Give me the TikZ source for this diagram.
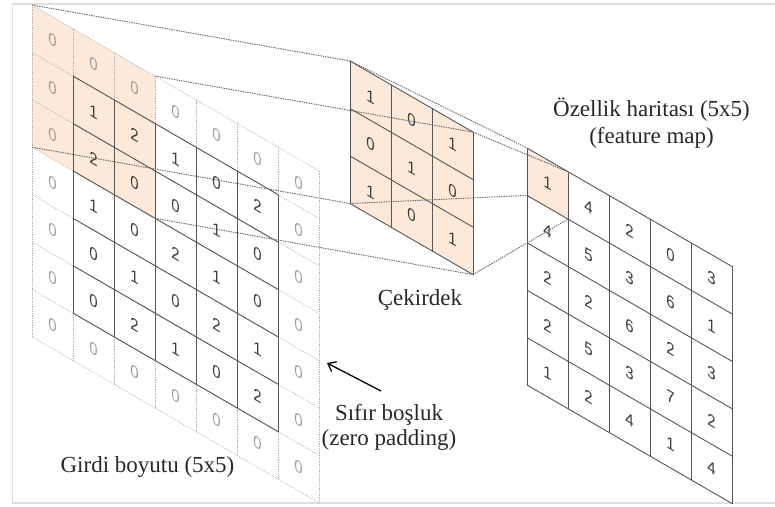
\documentclass[tikz,border=0pt]{standalone}
\usepackage{fontspec}
\setmainfont{Liberation Serif}
\newfontfamily\digitfont[FakeStretch=0.88]{Liberation Sans}
\usetikzlibrary{arrows.meta}

\definecolor{peach}{RGB}{252,233,217}
\definecolor{padgray}{RGB}{175,175,175}
\definecolor{padtext}{RGB}{160,160,160}
\definecolor{gridgray}{RGB}{85,85,85}
\definecolor{numtext}{RGB}{60,60,60}
\definecolor{projgray}{RGB}{105,105,105}
\definecolor{framegray}{RGB}{222,222,222}
\definecolor{captext}{RGB}{40,40,40}

\begin{document}
\begin{tikzpicture}[x=1pt,y=-1pt,
  padline/.style={draw=padgray, line width=0.75pt, dash pattern=on 0.7pt off 1.1pt},
  cellline/.style={draw=gridgray, line width=0.9pt},
  projline/.style={draw=projgray, line width=0.95pt, dash pattern=on 1.4pt off 1pt},
  padnum/.style={font=\digitfont\fontsize{17}{17}\selectfont, text=padtext, transform shape, inner sep=0pt},
  cellnum/.style={padnum, text=numtext},
  caption/.style={font=\fontsize{23}{27}\selectfont, text=captext, anchor=base, inner sep=0pt},
  pointer/.style={draw=black, line width=1.3pt, -{Straight Barb[length=7pt,width=11pt]}}
]
\useasboundingbox (0,0) rectangle (775,506);

% outer frame (its right side lies past the page edge)
\draw[framegray, line width=1.5pt] (777,4) -- (12.7,4) -- (12.7,503) -- (777,503);

% ---------- padded input (7x7), inner 5x5 solid ----------
\begin{scope}[cm={1,-0.578,0,1,(32pt,-5pt)}, x=41pt, y=-47.4pt]
  \fill[peach] (0,0) -- (3,0) -- (3,3) -- (0,3) -- cycle;
  \foreach \i in {0,...,7} {
    \draw[padline] (\i,0) -- (\i,7);
    \draw[padline] (0,\i) -- (7,\i);
  }
  \foreach \i in {1,...,6} {
    \draw[cellline] (\i,1) -- (\i,6);
    \draw[cellline] (1,\i) -- (6,\i);
  }
  \foreach \c in {0,...,6} {
    \node[padnum] (pad-0-\c) at (\c+0.5,0.5) {0};
    \node[padnum] (pad-6-\c) at (\c+0.5,6.5) {0};
  }
  \foreach \r in {1,...,5} {
    \node[padnum] (pad-\r-0) at (0.5,\r+0.5) {0};
    \node[padnum] (pad-\r-6) at (6.5,\r+0.5) {0};
  }
  \foreach \row [count=\r] in {{1,2,1,0,2},{2,0,0,1,0},{1,0,2,1,0},{0,1,0,2,1},{0,2,1,0,2}} {
    \foreach \v [count=\c] in \row {
      \node[cellnum] (in-\r-\c) at (\c+0.5,\r+0.5) {\v};
    }
  }
  \coordinate (win-tl) at (0,0);
  \coordinate (win-tr) at (3,0);
  \coordinate (win-bl) at (0,3);
  \coordinate (win-br) at (3,3);
\end{scope}

% ---------- kernel (3x3) ----------
\begin{scope}[cm={1,-0.578,0,1,(350pt,-61pt)}, x=41pt, y=-47.5pt]
  \fill[peach] (0,0) -- (3,0) -- (3,3) -- (0,3) -- cycle;
  \foreach \i in {0,...,3} {
    \draw[cellline] (\i,0) -- (\i,3);
    \draw[cellline] (0,\i) -- (3,\i);
  }
  \foreach \row [count=\r] in {{1,0,1},{0,1,0},{1,0,1}} {
    \foreach \v [count=\c] in \row {
      \node[cellnum] (k-\r-\c) at (\c-0.5,\r-0.5) {\v};
    }
  }
  \coordinate (k-tl) at (0,0);
  \coordinate (k-tr) at (3,0);
  \coordinate (k-bl) at (0,3);
  \coordinate (k-br) at (3,3);
\end{scope}

% ---------- feature map (5x5) ----------
\begin{scope}[cm={1,-0.578,0,1,(527pt,-148pt)}, x=41pt, y=-47.4pt]
  \fill[peach] (0,0) -- (1,0) -- (1,1) -- (0,1) -- cycle;
  \foreach \i in {0,...,5} {
    \draw[cellline] (\i,0) -- (\i,5);
    \draw[cellline] (0,\i) -- (5,\i);
  }
  \foreach \row [count=\r] in {{1,4,2,0,3},{4,5,3,6,1},{2,2,6,2,3},{2,5,3,7,2},{1,2,4,1,4}} {
    \foreach \v [count=\c] in \row {
      \node[cellnum] (f-\r-\c) at (\c-0.5,\r-0.5) {\v};
    }
  }
  \coordinate (f-tl) at (0,0);
  \coordinate (f-tr) at (1,0);
  \coordinate (f-bl) at (0,1);
  \coordinate (f-br) at (1,1);
\end{scope}

% ---------- projection lines ----------
\draw[projline] (win-tl) -- (k-tl);
\draw[projline] (win-tr) -- (k-tr);
\draw[projline] (win-bl) -- (k-bl);
\draw[projline] (win-br) -- (k-br);
\draw[projline] (k-tl) -- (f-tl);
\draw[projline] (k-tr) -- (f-tr);
\draw[projline] (k-bl) -- (f-bl);
\draw[projline] (k-br) -- (f-br);

% ---------- captions ----------
\node[caption] (fmap-title) at (651.5,116.7) {Özellik haritası (5x5)};
\node[caption] (fmap-sub) at (651.5,143.5) {(feature map)};
\node[caption] (kernel-title) at (420,305) {Çekirdek};
\node[caption] (pad-title) at (389,420) {Sıfır boşluk};
\node[caption] (pad-sub) at (389,445) {(zero padding)};
\node[caption] (input-title) at (147.5,472) {Girdi boyutu (5x5)};

% pointer to the padding ring
\coordinate (pointer-tail) at (381,391);
\coordinate (pointer-head) at (327,363);
\draw[pointer] (pointer-tail) -- (pointer-head);
\end{tikzpicture}
\end{document}
